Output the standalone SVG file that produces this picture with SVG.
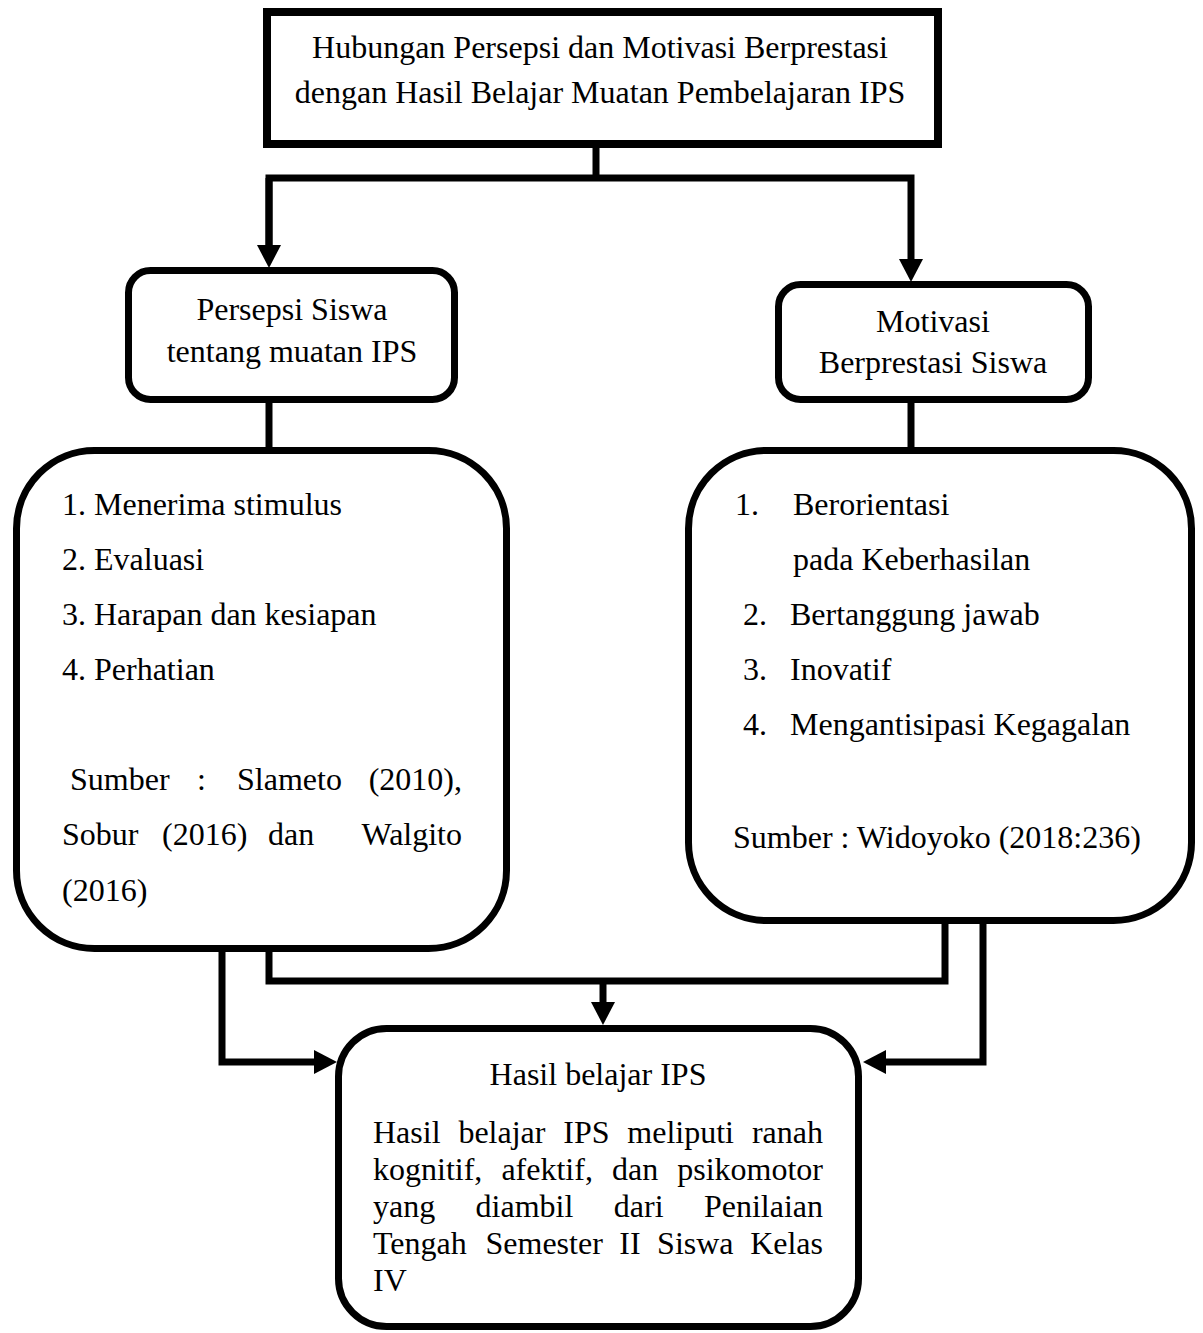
<svg xmlns="http://www.w3.org/2000/svg" width="1203" height="1333" viewBox="0 0 1203 1333">
<style>
.box{fill:#fff;stroke:#000;stroke-width:7}
.conn{fill:none;stroke:#000;stroke-width:7;stroke-linejoin:miter;stroke-linecap:butt}
text{font-family:"Liberation Serif","Times New Roman",serif;font-size:32px;fill:#000}
.c{text-anchor:middle}
.e{text-anchor:end}
</style>
<defs>
<marker id="ah" markerUnits="userSpaceOnUse" markerWidth="23" markerHeight="24" viewBox="0 0 23 24" refX="1" refY="12" orient="auto">
<path d="M0,0 L23,12 L0,24 Z" fill="#000"/>
</marker>
</defs>
<rect width="1203" height="1333" fill="#fff"/>

<g id="connectors">
<line class="conn" x1="596" y1="144" x2="596" y2="178"/>
<polyline class="conn" points="269,246 269,178 911,178 911,260" marker-end="url(#ah)"/>
<line class="conn" x1="269" y1="178" x2="269" y2="246" marker-end="url(#ah)"/>
<line class="conn" x1="269" y1="403" x2="269" y2="448"/>
<line class="conn" x1="911" y1="403" x2="911" y2="448"/>
<polyline class="conn" points="222,948 222,1062 315,1062" marker-end="url(#ah)"/>
<polyline class="conn" points="983,921 983,1062 885,1062" marker-end="url(#ah)"/>
<polyline class="conn" points="269,948 269,981 945,981 945,921"/>
<line class="conn" x1="603" y1="981" x2="603" y2="1003" marker-end="url(#ah)"/>
</g>

<g id="node-title">
<rect class="box" x="267" y="12" width="671" height="132" style="stroke-width:8"/>
<text class="c" x="600" y="58">Hubungan Persepsi dan Motivasi Berprestasi</text>
<text class="c" x="600" y="103">dengan Hasil Belajar Muatan Pembelajaran IPS</text>
</g>

<g id="node-persepsi">
<rect class="box" x="128.5" y="270.5" width="326" height="129" rx="22"/>
<text class="c" x="292" y="320">Persepsi Siswa</text>
<text class="c" x="292" y="362">tentang muatan IPS</text>
</g>

<g id="node-motivasi">
<rect class="box" x="778.5" y="284.5" width="310" height="115" rx="22"/>
<text class="c" x="933" y="332">Motivasi</text>
<text class="c" x="933" y="373">Berprestasi Siswa</text>
</g>

<g id="node-persepsi-detail">
<rect class="box" x="16.5" y="450.5" width="490" height="498" rx="78"/>
<text x="62" y="515">1. Menerima stimulus</text>
<text x="62" y="570">2. Evaluasi</text>
<text x="62" y="625">3. Harapan dan kesiapan</text>
<text x="62" y="680">4. Perhatian</text>
<text x="70" y="790">Sumber</text>
<text x="197" y="790">:</text>
<text x="237" y="790">Slameto</text>
<text class="e" x="462" y="790">(2010),</text>
<text x="62" y="845">Sobur</text>
<text x="162" y="845">(2016)</text>
<text x="268" y="845">dan</text>
<text class="e" x="462" y="845">Walgito</text>
<text x="62" y="901">(2016)</text>
</g>

<g id="node-motivasi-detail">
<rect class="box" x="688.5" y="450.5" width="503" height="470" rx="78"/>
<text x="735" y="515">1.</text>
<text x="793" y="515">Berorientasi</text>
<text x="793" y="570">pada Keberhasilan</text>
<text x="743" y="625">2.</text>
<text x="790" y="625">Bertanggung jawab</text>
<text x="743" y="680">3.</text>
<text x="790" y="680">Inovatif</text>
<text x="743" y="735">4.</text>
<text x="790" y="735">Mengantisipasi Kegagalan</text>
<text x="733" y="848">Sumber : Widoyoko (2018:236)</text>
</g>

<g id="node-hasil">
<rect class="box" x="338.5" y="1028.5" width="520" height="298" rx="48"/>
<text class="c" x="598" y="1085">Hasil belajar IPS</text>
<text x="373" y="1143">Hasil</text>
<text x="458.4" y="1143">belajar</text>
<text x="563.3" y="1143">IPS</text>
<text x="627.3" y="1143">meliputi</text>
<text class="e" x="823" y="1143">ranah</text>
<text x="373" y="1180">kognitif,</text>
<text x="501.4" y="1180">afektif,</text>
<text x="612" y="1180">dan</text>
<text class="e" x="823" y="1180">psikomotor</text>
<text x="373" y="1217">yang</text>
<text x="475.6" y="1217">diambil</text>
<text x="613.8" y="1217">dari</text>
<text class="e" x="823" y="1217">Penilaian</text>
<text x="373" y="1254">Tengah</text>
<text x="485.5" y="1254">Semester</text>
<text x="619.3" y="1254">II</text>
<text x="657.1" y="1254">Siswa</text>
<text class="e" x="823" y="1254">Kelas</text>
<text x="373" y="1291">IV</text>
</g>
</svg>
